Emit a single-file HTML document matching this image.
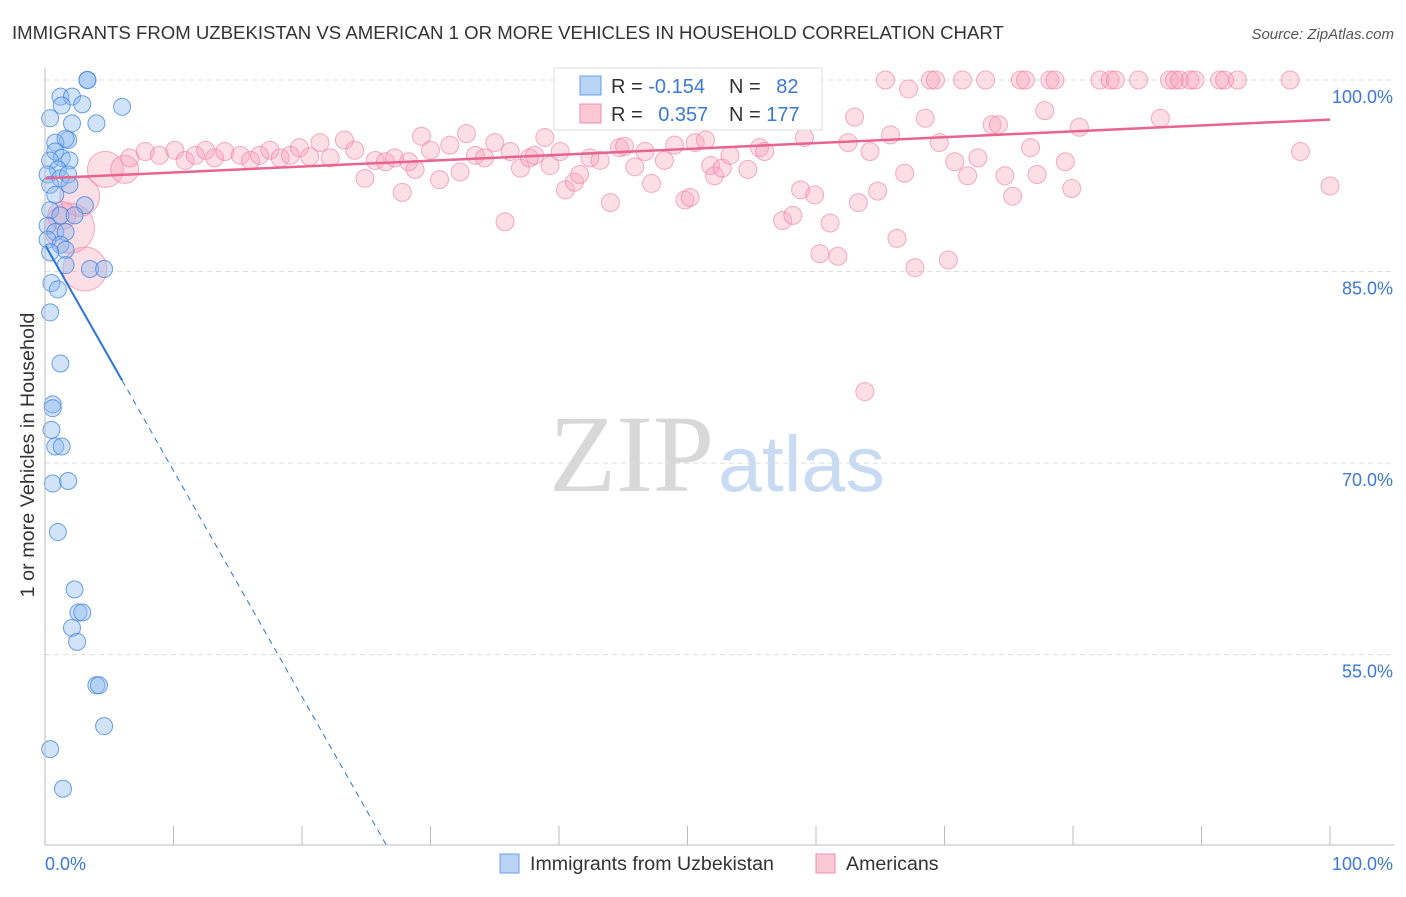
<!DOCTYPE html>
<html><head><meta charset="utf-8"><style>
body{margin:0;background:#fff;font-family:"Liberation Sans",sans-serif}
svg text{font-family:"Liberation Sans",sans-serif}
</style></head><body>
<svg id="c" width="1406" height="892" xmlns="http://www.w3.org/2000/svg">
<text x="12" y="39" font-size="18.6" fill="#333">IMMIGRANTS FROM UZBEKISTAN VS AMERICAN 1 OR MORE VEHICLES IN HOUSEHOLD CORRELATION CHART</text>
<text x="1394" y="39" font-size="15" fill="#555" text-anchor="end" font-style="italic">Source: ZipAtlas.com</text>
<text x="714" y="491" font-size="110" fill="#d8d8d8" text-anchor="end" style="font-family:'Liberation Serif',serif">ZIP</text>
<text x="718" y="491" font-size="79" fill="#c9dbf3">atlas</text>
<g id="grid"></g><g id="pts"></g><g id="lines"></g><g id="axes"></g>
<text x="34" y="455" font-size="19.8" fill="#333" text-anchor="middle" transform="rotate(-90 34 455)">1 or more Vehicles in Household</text>
<g>
<rect x="554" y="68" width="268" height="62" fill="#fff" stroke="#ddd"/>
<rect x="580" y="76" width="21" height="19" fill="#b9d3f5" stroke="#6a9fe6"/>
<rect x="580" y="104" width="21" height="19" fill="#fbc8d7" stroke="#ee8fac"/>
<text x="611" y="93" font-size="20" fill="#333">R = <tspan fill="#3b78d8">-0.154</tspan></text>
<text x="729" y="93" font-size="20" fill="#333">N = <tspan fill="#3b78d8" dx="10">82</tspan></text>
<text x="611" y="121" font-size="20" fill="#333">R = <tspan fill="#3b78d8" dx="10">0.357</tspan></text>
<text x="729" y="121" font-size="20" fill="#333">N = <tspan fill="#3b78d8">177</tspan></text>
</g>
<g>
<rect x="500" y="854" width="19" height="19" fill="#b9d3f5" stroke="#6a9fe6"/>
<text x="530" y="870" font-size="19.6" fill="#333">Immigrants from Uzbekistan</text>
<rect x="816" y="854" width="19" height="19" fill="#fbc8d7" stroke="#ee8fac"/>
<text x="846" y="870" font-size="19.6" fill="#333">Americans</text>
</g>
</svg>
<script>
const blueX=[3.3,3.3,1.2,2.1,2.9,6.0,1.3,4.0,0.4,2.1,1.8,0.8,1.6,0.8,1.3,1.9,0.4,1.0,0.2,1.2,1.8,0.4,1.9,0.8,3.1,0.4,1.2,2.3,0.2,0.8,1.6,0.2,1.2,1.6,0.4,1.6,3.5,4.6,0.5,1.0,0.4,1.2,0.6,0.6,0.5,0.8,1.3,0.6,1.8,1.0,2.3,2.6,2.9,2.1,2.5,4.0,4.2,4.6,0.4,1.4];
const blueY=[100,100,98.7,98.7,98.1,97.9,98.0,96.6,97.0,96.6,95.3,95.1,95.4,94.4,93.9,93.7,93.7,93.0,92.6,92.3,92.6,91.8,91.8,91.0,90.2,89.8,89.4,89.4,88.6,88.1,88.1,87.5,87.1,86.7,86.5,85.5,85.2,85.2,84.1,83.6,81.8,77.8,74.6,74.3,72.6,71.3,71.3,68.4,68.6,64.6,60.1,58.3,58.3,57.1,56.0,52.6,52.6,49.4,47.6,44.5];
const pinkBigX=[3.1,1.9,2.7,4.7,6.2,1.3];
const pinkBigY=[85.2,88.4,90.9,93.0,93.0,89.4];
const pinkBigR=[22,25,20,18,14,14];
const pinkX=[6.6,7.8,8.9,10.1,10.9,11.7,12.5,13.2,14.0,15.2,16.0,16.7,17.5,18.3,19.1,19.8,20.6,21.4,22.2,23.3,24.1,24.9,25.7,26.5,27.2,27.8,28.3,28.8,29.3,30.0,30.7,31.5,32.3,32.8,33.5,34.2,35.0,35.8,36.2,37.0,37.7,38.1,38.9,39.3,40.1,40.5,41.2,41.6,42.4,43.2,44.0,44.7,45.1,45.9,46.7,47.2,48.2,49.0,49.8,50.2,50.6,51.4,51.8,52.1,52.7,53.3,54.7,55.6,56.0,57.4,58.2,58.8,59.1,59.9,60.3,61.1,61.7,62.5,63.0,63.3,63.8,64.2,64.8,65.4,65.8,66.3,66.9,67.2,67.7,68.5,68.9,69.3,69.6,70.3,70.8,71.4,71.8,72.6,73.2,73.7,74.2,74.7,75.3,75.9,76.3,76.7,77.2,77.8,78.2,78.6,79.4,79.9,80.5,82.1,82.9,83.3,85.1,86.8,87.5,87.9,88.3,89.1,89.5,91.4,91.8,92.8,96.9,97.7,100];
const pinkY=[93.9,94.4,94.1,94.5,93.7,94.1,94.5,93.9,94.4,94.1,93.7,94.1,94.5,93.9,94.1,94.7,94.0,95.1,93.9,95.3,94.5,92.3,93.7,93.6,93.9,91.2,93.6,93.0,95.6,94.5,92.2,94.9,92.8,95.8,94.1,93.9,95.1,88.9,94.4,93.1,93.9,94.1,95.5,93.3,94.4,91.4,92.0,92.6,93.9,93.7,90.4,94.7,94.8,93.2,94.4,91.9,93.7,94.9,90.6,90.8,95.1,95.3,93.3,92.5,93.1,94.1,93.0,94.7,94.4,89.0,89.4,91.4,95.5,91.0,86.4,88.8,86.2,95.1,97.1,90.4,75.6,94.4,91.3,100,95.7,87.6,92.7,99.3,85.3,97.0,100,100,95.1,85.9,93.6,100,92.5,93.9,100,96.5,96.5,92.5,90.9,100,100,94.7,92.6,97.6,100,100,93.6,91.5,96.3,100,100,100,100,97.0,100,100,100,100,100,100,100,100,100,94.4,91.7];
const tickVals=[100,85,70,55];
const xTickLabels=["0.0%","100.0%"];
const blueTrend=[87.1,-1.77];
const pinkTrend=[92.3,96.9];

const X=p=>45+p*12.85, Y=v=>80+(100-v)*12.77;
const NS="http://www.w3.org/2000/svg";
function mk(tag,parent,attrs){const e=document.createElementNS(NS,tag);for(const k in attrs)e.setAttribute(k,attrs[k]);document.getElementById(parent).appendChild(e);return e;}
tickVals.forEach(v=>{
  const l=mk('line','grid',{x1:45,x2:1394,y1:Y(v),y2:Y(v),stroke:'#ddd','stroke-dasharray':'5,4'});
  
  
  const t=mk('text','axes',{x:1393,y:Y(v)+23,'font-size':18,fill:'#3b78d8','text-anchor':'end'});
  t.textContent=v.toFixed(1)+'%';
  
  
});
const ax=mk('line','axes',{x1:45,x2:45,y1:68,y2:845,stroke:'#bbb'});


const bx=mk('line','axes',{x1:45,x2:1394,y1:845,y2:845,stroke:'#bbb'});


for(let i=0;i<=10;i++){
  const t=mk('line','axes',{x1:X(i*10),x2:X(i*10),y1:826,y2:845,stroke:'#bbb'});
  
  
}
[[0,'start'],[100,'end']].forEach((d,i)=>{
  const t=mk('text','axes',{x:i?1393:45,y:870,'font-size':18,fill:'#3b78d8','text-anchor':d[1]});
  t.textContent=xTickLabels[i];
  
  
});
pinkBigX.forEach((p,i)=>{
  const c=mk('circle','pts',{cx:X(p),cy:Y(pinkBigY[i]),r:pinkBigR[i],fill:'rgba(246,160,186,0.35)',stroke:'rgba(238,120,158,0.6)'});
  
  
});
pinkX.forEach((p,i)=>{
  const c=mk('circle','pts',{cx:X(p),cy:Y(pinkY[i]),r:9,fill:'rgba(246,160,186,0.35)',stroke:'rgba(238,120,158,0.6)'});
  
  
});
blueX.forEach((p,i)=>{
  const c=mk('circle','pts',{cx:X(p),cy:Y(blueY[i]),r:8.5,fill:'rgba(140,185,240,0.4)',stroke:'rgba(60,130,225,0.75)'});
  
  
});
const endP=(40.1-blueTrend[0])/blueTrend[1];
const b1=mk('line','lines',{x1:X(0),y1:Y(blueTrend[0]),x2:X(6),y2:Y(blueTrend[0]+6*blueTrend[1]),stroke:'#2a74d8','stroke-width':2});


const b2=mk('line','lines',{x1:X(6),y1:Y(blueTrend[0]+6*blueTrend[1]),x2:X(endP),y2:Y(40.1),stroke:'#2a74d8','stroke-width':1,'stroke-dasharray':'6,5'});


const p1=mk('line','lines',{x1:X(0),y1:Y(pinkTrend[0]),x2:X(100),y2:Y(pinkTrend[1]),stroke:'#e8648e','stroke-width':2.5});


</script>
</body></html>
